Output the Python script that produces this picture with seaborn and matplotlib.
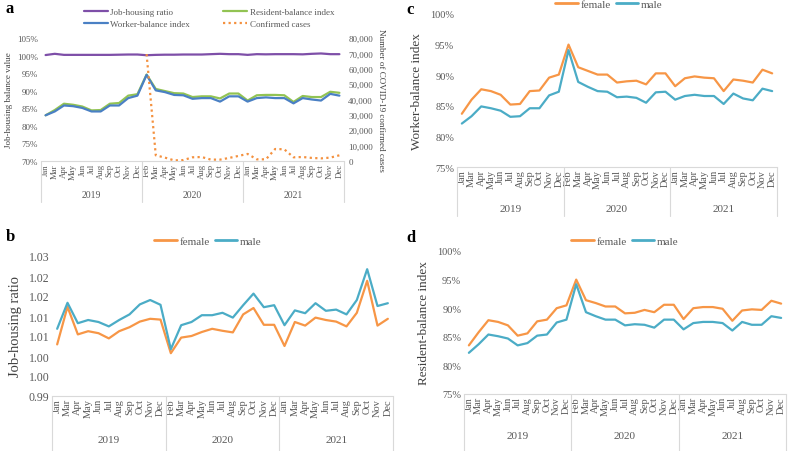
import numpy as np
import pandas as pd
import matplotlib
matplotlib.use("Agg")
import matplotlib.pyplot as plt
import seaborn as sns
from matplotlib.lines import Line2D
from matplotlib.transforms import blended_transform_factory

# ---------------- data ----------------
months = ["Jan", "Mar", "Apr", "May", "Jun", "Jul", "Aug", "Sep", "Oct", "Nov", "Dec",
          "Feb", "Mar", "Apr", "May", "Jun", "Jul", "Aug", "Sep", "Oct", "Nov", "Dec",
          "Jan", "Mar", "Apr", "May", "Jun", "Jul", "Aug", "Sep", "Oct", "Nov", "Dec"]
years = ["2019", "2020", "2021"]
year_counts = [11, 11, 11]

# panel a (percent)
job_housing_ratio = [100.15, 100.5, 100.2, 100.2, 100.2, 100.2, 100.2, 100.2, 100.25, 100.3, 100.3,
                     100.1, 100.2, 100.25, 100.25, 100.3, 100.3, 100.3, 100.4, 100.5, 100.4, 100.4,
                     100.2, 100.4, 100.35, 100.4, 100.4, 100.4, 100.35, 100.5, 100.6, 100.4, 100.4]
resident_balance = [83.0, 84.5, 86.3, 86.0, 85.5, 84.4, 84.5, 86.3, 86.5, 88.6, 89.0,
                    94.6, 90.5, 89.9, 89.3, 89.2, 88.2, 88.4, 88.4, 87.8, 89.2, 89.2,
                    87.2, 88.7, 88.8, 88.8, 88.7, 86.8, 88.5, 88.2, 88.2, 89.7, 89.4]
worker_balance = [83.0, 84.1, 85.8, 85.6, 85.1, 84.1, 84.1, 85.8, 85.8, 87.9, 88.6,
                  94.5, 90.1, 89.6, 88.8, 88.7, 87.7, 87.9, 87.9, 86.9, 88.4, 88.4,
                  86.9, 87.9, 88.1, 87.9, 87.9, 86.4, 87.9, 87.5, 87.2, 89.1, 88.6]
confirmed_cases = [np.nan] * 11 + [69500, 3700, 2200, 400, 600, 2400, 2600, 900, 900, 2000, 3300,
                                   4600, 1100, 1100, 7800, 7600, 2400, 2600, 2000, 1700, 2200, 3700]

# panel b (job-housing ratio by gender)
jh_female = [1.0079, 1.0173, 1.0104, 1.0112, 1.0107, 1.0094, 1.0112, 1.0122, 1.0136, 1.0143, 1.0141,
             1.0057, 1.0096, 1.0100, 1.0110, 1.0118, 1.0113, 1.0109, 1.0154, 1.0170, 1.0128, 1.0128,
             1.0075, 1.0135, 1.0126, 1.0146, 1.0140, 1.0136, 1.0124, 1.0158, 1.0238, 1.0126, 1.0143]
jh_male = [1.0118, 1.0183, 1.0132, 1.0140, 1.0135, 1.0124, 1.0140, 1.0154, 1.0179, 1.0190, 1.0178,
           1.0067, 1.0127, 1.0135, 1.0152, 1.0152, 1.0158, 1.0146, 1.0177, 1.0206, 1.0172, 1.0177,
           1.0127, 1.0164, 1.0157, 1.0182, 1.0163, 1.0166, 1.0154, 1.0190, 1.0267, 1.0175, 1.0182]
b_ticks = [0.995, 1.000, 1.005, 1.010, 1.015, 1.020, 1.025, 1.030]
b_tick_labels = ["0.99", "1.00", "1.00", "1.01", "1.01", "1.02", "1.02", "1.03"]

# panel c (worker-balance index by gender, percent)
wb_female = [83.7, 86.0, 87.7, 87.4, 86.8, 85.2, 85.3, 87.4, 87.5, 89.6, 90.1,
             95.0, 91.3, 90.7, 90.1, 90.1, 88.8, 89.0, 89.1, 88.5, 90.3, 90.3,
             88.2, 89.5, 89.8, 89.6, 89.5, 87.4, 89.3, 89.1, 88.8, 90.9, 90.3]
wb_male = [82.1, 83.3, 84.9, 84.6, 84.2, 83.2, 83.3, 84.6, 84.6, 86.7, 87.3,
           94.1, 88.9, 88.1, 87.4, 87.3, 86.4, 86.5, 86.3, 85.5, 87.2, 87.3,
           86.0, 86.6, 86.8, 86.6, 86.6, 85.3, 87.0, 86.2, 85.9, 87.8, 87.4]

# panel d (resident-balance index by gender, percent)
rb_female = [83.5, 85.8, 87.9, 87.6, 87.0, 85.2, 85.6, 87.7, 88.0, 90.0, 90.5,
             95.0, 91.4, 90.9, 90.3, 90.3, 89.1, 89.2, 89.7, 89.3, 90.6, 90.6,
             88.1, 90.0, 90.2, 90.2, 89.9, 87.8, 89.6, 89.8, 89.7, 91.3, 90.8]
rb_male = [82.2, 83.7, 85.4, 85.1, 84.7, 83.5, 83.9, 85.2, 85.4, 87.5, 88.0,
           94.2, 89.3, 88.6, 88.0, 88.0, 87.0, 87.2, 87.1, 86.6, 88.0, 88.0,
           86.3, 87.4, 87.6, 87.6, 87.4, 86.1, 87.6, 87.1, 87.1, 88.6, 88.3]

# ---------------- style ----------------
sns.set_theme(style="white")
plt.rcParams["font.family"] = ["Liberation Serif", "DejaVu Serif"]

C_PURPLE = "#7E4FA8"
C_GREEN = "#92C353"
C_BLUE = "#4A80C4"
C_ORANGE = "#F4913F"
C_FEM = "#F79646"
C_MALE = "#4BACC6"
TXT = "#595959"
GRID = "#D9D9D9"

W, H = 788, 452
fig = plt.figure(figsize=(W / 100, H / 100), dpi=100)


def add_ax(x0, y0, x1, y1):
    return fig.add_axes([x0 / W, 1 - y1 / H, (x1 - x0) / W, (y1 - y0) / H])


def cat_axis(ax, ax_h, drop_px, year_px, month_fs, year_fs):
    ax.set_xlim(-0.5, len(months) - 0.5)
    ax.set_xticks(range(len(months)))
    ax.set_xticklabels(months, rotation=90, fontsize=month_fs, color=TXT)
    ax.tick_params(axis="x", length=0, pad=1.5)
    ax.tick_params(axis="y", length=0, pad=2)
    for s in ["top", "right", "left"]:
        ax.spines[s].set_visible(False)
    ax.spines["bottom"].set_color(GRID)
    ax.spines["bottom"].set_linewidth(0.8)
    tr = blended_transform_factory(ax.transData, ax.transAxes)
    bounds = np.cumsum([0] + year_counts) - 0.5
    for b in bounds:
        ax.plot([b, b], [0, -drop_px / ax_h], transform=tr, clip_on=False,
                color=GRID, lw=0.8)
    for i, y in enumerate(years):
        c = (bounds[i] + bounds[i + 1]) / 2
        ax.text(c, -year_px / ax_h, y, transform=tr, ha="center", va="center",
                fontsize=year_fs, color=TXT)
    ax.set_xlabel("")


idx = np.arange(len(months))

# ---------------- panel a ----------------
axa = add_ax(41, 39, 344, 162)
dfa = pd.DataFrame({
    "x": np.tile(idx, 3),
    "v": job_housing_ratio + resident_balance + worker_balance,
    "s": ["Job-housing ratio"] * 33 + ["Resident-balance index"] * 33 + ["Worker-balance index"] * 33,
})
sns.lineplot(data=dfa, x="x", y="v", hue="s",
             palette={"Job-housing ratio": C_PURPLE, "Resident-balance index": C_GREEN,
                      "Worker-balance index": C_BLUE},
             ax=axa, legend=False, linewidth=1.6)
axa.set_ylim(70, 105)
axa.set_yticks(range(70, 106, 5))
axa.set_yticklabels([f"{t}%" for t in range(70, 106, 5)], fontsize=6.5, color=TXT)
axa.set_ylabel("Job-housing balance value", fontsize=6.5, color="#404040", labelpad=3)
cat_axis(axa, 123, 41, 33, 6.3, 7)

axa2 = axa.twinx()
dfc = pd.DataFrame({"x": idx, "v": confirmed_cases})
sns.lineplot(data=dfc, x="x", y="v", ax=axa2, color=C_ORANGE, linestyle=(0, (1, 1.5)),
             linewidth=1.6, legend=False)
axa2.set_ylim(0, 80000)
axa2.set_yticks(range(0, 80001, 10000))
axa2.set_yticklabels([f"{t:,}" for t in range(0, 80001, 10000)], fontsize=6.5, color=TXT)
axa2.tick_params(axis="y", length=0, pad=3)
for s in ["top", "right", "left", "bottom"]:
    axa2.spines[s].set_visible(False)
axa2.set_ylabel("Number of COVID-19 confirmed cases", fontsize=6.5, color="#404040",
                rotation=270, labelpad=9)
axa2.set_xlabel("")

handles_a = [Line2D([], [], color=C_PURPLE, lw=1.6), Line2D([], [], color=C_BLUE, lw=1.6),
             Line2D([], [], color=C_GREEN, lw=1.6),
             Line2D([], [], color=C_ORANGE, lw=1.6, linestyle=(0, (1, 1.5)))]
labels_a = ["Job-housing ratio", "Worker-balance index", "Resident-balance index", "Confirmed cases"]
fig.legend(handles_a, labels_a, ncol=2, loc="center left", bbox_to_anchor=(76 / W, 1 - 19 / H),
           frameon=False, fontsize=6.5, handlelength=2.6, handletextpad=0.3, columnspacing=3.7,
           labelspacing=0.45, labelcolor=TXT)


def gender_panel(ax, fem, male, ax_h, drop, ypos, month_fs, legend_center, ylabel, ylab_fs):
    df = pd.DataFrame({"x": np.tile(idx, 2), "v": fem + male,
                       "s": ["female"] * 33 + ["male"] * 33})
    sns.lineplot(data=df, x="x", y="v", hue="s", palette={"female": C_FEM, "male": C_MALE},
                 ax=ax, legend=False, linewidth=1.6)
    cat_axis(ax, ax_h, drop, ypos, month_fs, 8)
    ax.set_ylabel(ylabel, fontsize=ylab_fs, color="#404040", labelpad=5)
    hs = [Line2D([], [], color=C_FEM, lw=2), Line2D([], [], color=C_MALE, lw=2)]
    fig.legend(hs, ["female", "male"], ncol=2, loc="center",
               bbox_to_anchor=(legend_center[0] / W, 1 - legend_center[1] / H),
               frameon=False, fontsize=8, handlelength=2.0, handletextpad=0.3,
               columnspacing=0.4, labelcolor=TXT)


# ---------------- panel b ----------------
axb = add_ax(52, 257, 393, 397)
gender_panel(axb, jh_female, jh_male, 140, 55, 44, 7.5, (208, 242), "Job-housing ratio", 10.5)
axb.set_ylim(0.995, 1.030)
axb.set_yticks(b_ticks)
axb.set_yticklabels(b_tick_labels, fontsize=8.5, color=TXT)

# ---------------- panel c ----------------
axc = add_ax(457, 15, 777, 168)
gender_panel(axc, wb_female, wb_male, 153, 49, 42, 7.5, (609, 5), "Worker-balance index", 9.5)
axc.set_ylim(75, 100)
axc.set_yticks(range(75, 101, 5))
axc.set_yticklabels([f"{t}%" for t in range(75, 101, 5)], fontsize=7.5, color=TXT)

# ---------------- panel d ----------------
axd = add_ax(464, 252, 786, 395)
gender_panel(axd, rb_female, rb_male, 143, 57, 42, 7.5, (625, 242), "Resident-balance index", 9.5)
axd.set_ylim(75, 100)
axd.set_yticks(range(75, 101, 5))
axd.set_yticklabels([f"{t}%" for t in range(75, 101, 5)], fontsize=7.5, color=TXT)

# panel letters
for lab, (x, y) in {"a": (6, 9), "b": (6, 237), "c": (406, 10), "d": (406, 238)}.items():
    fig.text(x / W, 1 - y / H, lab, fontsize=12, fontweight="bold", color="black",
             ha="left", va="center")

fig.savefig("out.png", dpi=100)
